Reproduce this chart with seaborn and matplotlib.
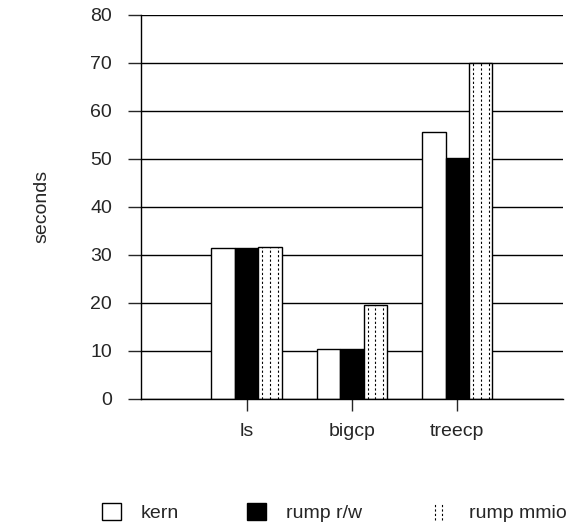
import numpy as np
import pandas as pd
import matplotlib
matplotlib.use('Agg')
import matplotlib.pyplot as plt
import seaborn as sns
from matplotlib.patches import Patch
from matplotlib.lines import Line2D
from matplotlib.legend_handler import HandlerBase

# data
tests = ['ls', 'bigcp', 'treecp']
kern = [31.5, 10.5, 55.5]
rump_rw = [31.5, 10.5, 50.2]
rump_mmio = [31.6, 19.5, 70.0]
series = ['kern', 'rump r/w', 'rump mmio']

df = pd.DataFrame({
    'test': tests * 3,
    'method': [series[0]] * 3 + [series[1]] * 3 + [series[2]] * 3,
    'seconds': kern + rump_rw + rump_mmio,
})

sns.set_style('white')
plt.rcParams['font.family'] = ['Liberation Sans', 'DejaVu Sans']

fig = plt.figure(figsize=(5.69, 5.27), dpi=100)
ax = fig.add_axes([0.248, 0.243, 0.741, 0.729])

sns.barplot(data=df, x='test', y='seconds', hue='method', order=tests, hue_order=series,
            palette=['white', 'black', 'white'], edgecolor='black', linewidth=1,
            width=0.666, gap=0, legend=False, ax=ax)

# dotted vertical lines inside the mmio bars
for bar in ax.containers[2]:
    x0, w, h = bar.get_x(), bar.get_width(), bar.get_height()
    for f in (1 / 6, 1 / 2, 5 / 6):
        ax.vlines(x0 + w * f, 0, h, colors='black', linewidth=0.8,
                  linestyles=(0, (2, 2)), zorder=3)

ax.set_xlim(-1, 3)
ax.set_ylim(0, 80)
ax.set_yticks(range(0, 81, 10))
ax.grid(axis='y', color='black', linewidth=1)
ax.set_axisbelow(True)
for s in ['top', 'right']:
    ax.spines[s].set_visible(False)
for s in ['left', 'bottom']:
    ax.spines[s].set_color('black')
    ax.spines[s].set_linewidth(1)
ax.tick_params(axis='y', direction='out', length=9.4, width=1, pad=11.5, labelsize=14, left=True)
ax.tick_params(axis='x', direction='out', length=8.5, width=1, pad=9, labelsize=14, bottom=True)
ax.set_xlabel('')
ax.set_ylabel('seconds', fontsize=14, labelpad=29)


class DottedHandler(HandlerBase):
    def create_artists(self, legend, orig_handle, xdescent, ydescent, width, height, fontsize, trans):
        arts = []
        for f in (0.25, 0.65):
            x = -xdescent + width * f
            ln = Line2D([x, x], [-ydescent, -ydescent + height], color='black',
                        linewidth=0.8, linestyle=(0, (2, 2)), transform=trans)
            arts.append(ln)
        return arts


handles = [Patch(facecolor='white', edgecolor='black', linewidth=1),
           Patch(facecolor='black', edgecolor='black', linewidth=1),
           Patch(facecolor='none', edgecolor='none')]
fig.legend(handles, series, loc='center', bbox_to_anchor=(0.587, 0.028), ncol=3, frameon=False,
           fontsize=14, handlelength=1.0, handleheight=1.0, handletextpad=1.0, columnspacing=3.5,
           borderpad=0, handler_map={handles[2]: DottedHandler()})

fig.savefig('out.png', dpi=100)
